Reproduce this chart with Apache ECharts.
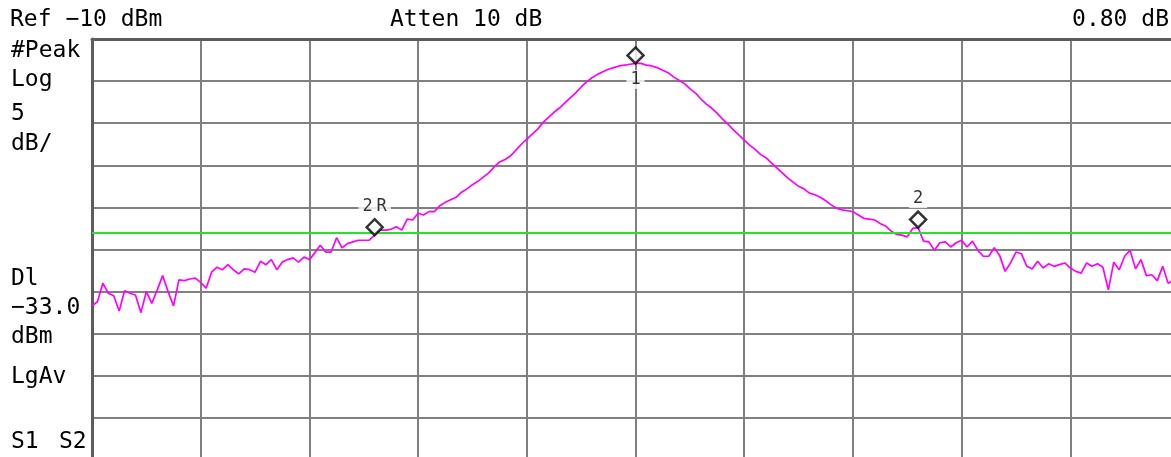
<!DOCTYPE html>
<html><head><meta charset="utf-8">
<script src="https://cdn.jsdelivr.net/npm/echarts@6/dist/echarts.min.js"></script>
<style>html,body{margin:0;padding:0;background:#fff}#c{width:1171px;height:457px}</style>
</head><body><div id="c"></div>
<script>
const REF_LEVEL = -10;        // dBm at top graticule
const DB_PER_DIV = 5;         // Log 5 dB/
const DIVS = 10;
const DISPLAY_LINE = -33.0;   // Dl -33.0 dBm
const POINTS_PER_DIV = 20;    // trace samples per horizontal division

const trace = [
  -41.7, -41.2, -39.0, -40.2, -40.5, -42.3, -39.9, -40.2, -40.4, -42.5,
  -40.0, -41.4, -39.8, -38.1, -40.0, -41.7, -38.6, -38.7, -38.5, -38.4,
  -38.9, -39.6, -37.7, -37.1, -37.4, -36.8, -37.4, -37.9, -37.3, -37.4,
  -37.7, -36.4, -36.8, -36.2, -37.4, -36.5, -36.2, -36.0, -36.5, -35.9,
  -36.2, -35.4, -34.5, -35.3, -35.3, -33.6, -34.8, -34.3, -34.1, -33.9,
  -33.9, -33.9, -33.3, -32.7, -32.7, -32.6, -32.3, -32.7, -31.4, -31.5,
  -30.7, -30.9, -30.5, -30.5, -29.8, -29.4, -29.1, -28.8, -28.2, -27.8,
  -27.3, -26.9, -26.4, -25.9, -25.2, -24.6, -24.3, -23.9, -23.2, -22.5,
  -21.9, -21.3, -20.7, -19.9, -19.3, -18.7, -18.2, -17.6, -17.0, -16.4,
  -15.7, -15.1, -14.6, -14.2, -13.9, -13.6, -13.4, -13.2, -13.1, -13.0,
  -12.9, -12.9, -13.1, -13.2, -13.4, -13.7, -14.0, -14.5, -14.9, -15.3,
  -15.9, -16.4, -17.1, -17.7, -18.2, -18.8, -19.5, -20.1, -20.8, -21.4,
  -22.0, -22.6, -23.1, -23.7, -24.1, -24.7, -25.3, -25.9, -26.5, -27.0,
  -27.5, -27.8, -28.3, -28.5, -28.8, -29.2, -29.7, -30.1, -30.3, -30.4,
  -30.5, -30.9, -31.3, -31.4, -31.5, -31.9, -32.2, -32.8, -33.2, -33.3,
  -33.5, -32.5, -32.4, -34.0, -34.1, -35.1, -34.2, -34.1, -34.7, -34.2,
  -33.9, -34.7, -34.0, -35.1, -35.8, -35.8, -34.8, -35.7, -37.6, -36.6,
  -35.3, -35.5, -37.0, -37.3, -36.4, -37.2, -36.7, -37.0, -36.8, -36.6,
  -37.2, -37.6, -37.8, -36.6, -37.0, -36.7, -37.1, -39.8, -36.5, -37.4,
  -35.8, -35.1, -37.3, -36.2, -38.1, -38.0, -38.7, -37.0, -39.0, -38.6
];

const markerIdx = [100, 52, 152];
const markerNames = ['1', '2R', '2'];

const topTexts = ['Ref \u221210 dBm', 'Atten 10 dB', '0.80 dB'];
const sideTexts = ['#Peak', 'Log', '5', 'dB/', 'Dl', '\u221233.0', 'dBm', 'LgAv', 'S1', 'S2'];

// ---- styles / layout ----
const FONT = '"DejaVu Sans Mono", monospace';
const GRID_COLOR = '#808080';
const BORDER_COLOR = '#5c5c5c';
const labelDy = { '1': 16, '2R': -29, '2': -29 };
const topPos = [[10, 20.5, 'left'], [390, 20.5, 'left'], [1169, 20.5, 'right']];
const sidePos = [[11, 51], [11, 80.5], [11, 114.5], [11, 144.5], [11, 279], [11, 308], [11, 337], [11, 377], [11, 442.5], [59, 442.5]];

const tracePts = trace.map((v, i) => [i / POINTS_PER_DIV, v]);
const markerPts = markerIdx.map((i, k) => ({ name: markerNames[k], value: [i / POINTS_PER_DIV, trace[i]] }));

const graphic = [];
topTexts.forEach((t, i) => graphic.push({
  type: 'text', x: topPos[i][0], y: topPos[i][1], silent: true,
  style: { text: t, font: '23px ' + FONT, fill: '#000', align: topPos[i][2], verticalAlign: 'middle' }
}));
sideTexts.forEach((t, i) => graphic.push({
  type: 'text', x: sidePos[i][0], y: sidePos[i][1], silent: true,
  style: { text: t, font: '23px ' + FONT, fill: '#000', align: 'left', verticalAlign: 'middle' }
}));

const chart = echarts.init(document.getElementById('c'), null, { renderer: 'canvas' });
chart.setOption({
  animation: false,
  backgroundColor: '#fff',
  grid: { left: 92, top: 39, width: 1087, height: 421, outerBoundsMode: 'none', containLabel: false },
  xAxis: {
    type: 'value', min: 0, max: DIVS, interval: 1, position: 'top',
    axisLine: { show: true, onZero: false, lineStyle: { color: BORDER_COLOR, width: 3 } },
    axisTick: { show: false }, axisLabel: { show: false },
    splitLine: { show: true, lineStyle: { color: GRID_COLOR, width: 2 } }
  },
  yAxis: {
    type: 'value', min: REF_LEVEL - DIVS * DB_PER_DIV, max: REF_LEVEL, interval: DB_PER_DIV,
    axisLine: { show: true, onZero: false, lineStyle: { color: BORDER_COLOR, width: 3 } },
    axisTick: { show: false }, axisLabel: { show: false },
    splitLine: { show: true, lineStyle: { color: GRID_COLOR, width: 2 } }
  },
  graphic: graphic,
  series: [
    {
      type: 'line', data: tracePts, showSymbol: false, symbol: 'none', z: 3,
      lineStyle: { color: '#ff00ff', width: 1.7 },
      markLine: {
        silent: true, symbol: 'none', label: { show: false },
        lineStyle: { color: '#22e622', width: 2, type: 'solid' },
        data: [{ yAxis: DISPLAY_LINE }]
      }
    },
    {
      type: 'scatter', data: markerPts, symbol: 'diamond', symbolSize: [16, 16], symbolOffset: [0, -8], z: 5,
      itemStyle: { color: '#fff', borderColor: '#000', borderWidth: 2.5 }
    },
    {
      type: 'scatter', data: markerPts, symbolSize: 1, z: 6,
      itemStyle: { color: 'rgba(0,0,0,0)' },
      label: {
        show: true, position: 'inside',
        formatter: p => p.name === '2R' ? '{n|2}{r|R}' : p.name,
        fontFamily: FONT, fontSize: 17, color: '#000',
        backgroundColor: '#fff', padding: [1, 4],
        rich: { n: { fontFamily: FONT, fontSize: 17, color: '#000' }, r: { fontFamily: FONT, fontSize: 17, color: '#000', padding: [0, 0, 0, 4] } }
      },
      labelLayout: p => ({ dy: labelDy[markerNames[p.dataIndex]] })
    }
  ]
});
</script></body></html>
